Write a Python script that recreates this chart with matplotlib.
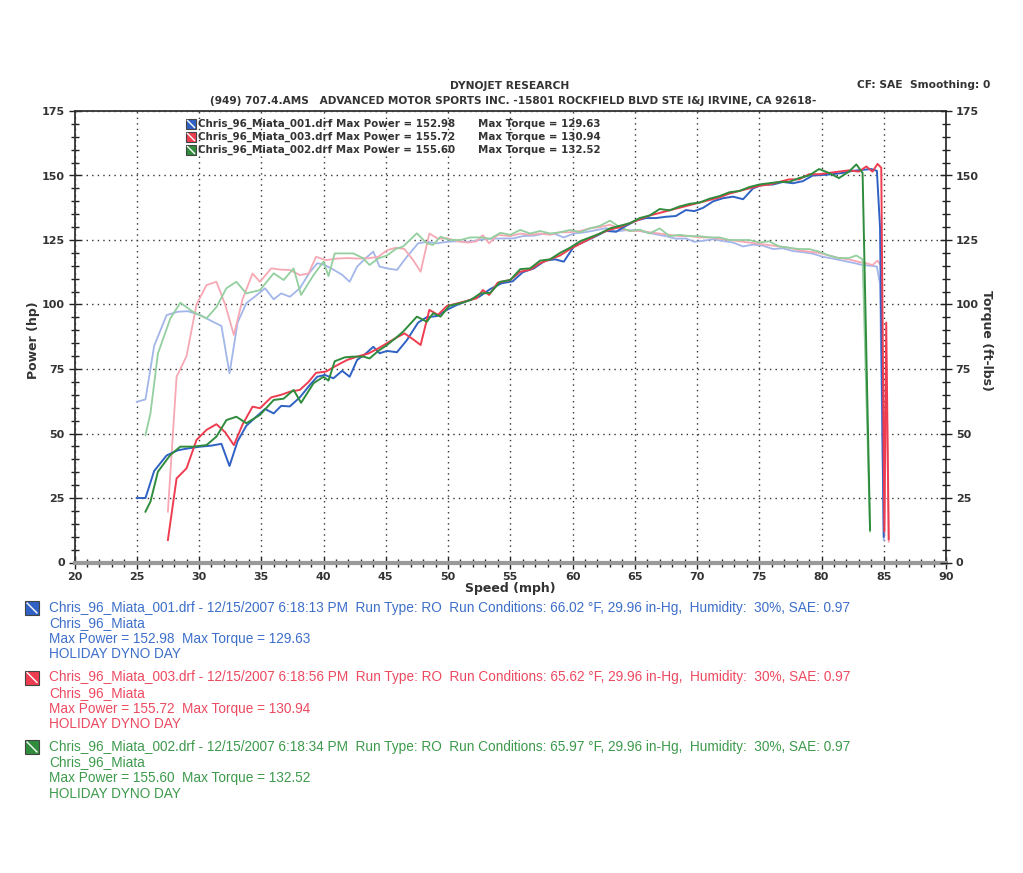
import numpy as np
import matplotlib.pyplot as plt
from matplotlib.patches import Rectangle
from matplotlib.lines import Line2D
from matplotlib.ticker import MultipleLocator

# ---- run 001 (blue) ----
speed_001 = [25.0, 25.7, 26.4, 27.4, 28.3, 29.1, 30.1, 31.0, 31.8, 32.45, 33.1, 33.8, 34.6, 35.3,
             36.0, 36.6, 37.3, 38.1, 38.9, 39.5, 40.1, 40.8, 41.5, 42.1, 42.7, 43.4, 44.0, 44.5,
             45.1, 45.9, 46.7, 47.6, 48.3, 49.1, 49.9, 50.7, 51.6, 52.5, 53.4, 54.3, 55.2, 56.0,
             56.9, 57.8, 58.6, 59.3, 60.1, 61.0, 61.9, 62.7, 63.5, 64.3, 65.1, 65.9, 66.7, 67.5,
             68.3, 69.1, 69.8, 70.5, 71.3, 72.1, 72.9, 73.7, 74.5, 75.3, 76.1, 76.9, 77.7, 78.5,
             79.3, 80.1, 80.9, 81.7, 82.5, 83.3, 84.0, 84.45, 84.7, 85.0]
power_001 = [25, 25, 35.5, 41.5, 43.5, 44.2, 44.9, 45.3, 46.0, 37.4, 47, 53, 56.5, 59.5,
             57.8, 60.7, 60.5, 64.0, 68.8, 72.0, 72.7, 71.4, 74.3, 72.0, 78.5, 81, 83.6, 81.1,
             82.0, 81.5, 86.2, 93.0, 95.1, 95.5, 97.9, 99.8, 101.5, 103, 106, 108.2, 109, 112.5,
             114, 117, 117.5, 116.6, 122.4, 124.5, 126.5, 128.5, 128.2, 130.5, 132.5, 133.5, 133.5, 134.0,
             134.3, 136.6, 136.2, 137.5, 140, 141.2, 141.8, 140.8, 145, 146.5, 146.5, 147.5, 147, 147.8,
             150, 150.2, 150.5, 151, 151.8, 152.2, 152.5, 151.8, 130, 10]
torque_001 = [62.3, 63.2, 84, 95.9, 97.2, 97.4, 95.9, 93.6, 91.7, 73.3, 93, 100.5, 103.5, 106.3,
              102, 104.3, 103, 106.3, 112.5, 116, 115.3, 113.5, 111.5, 108.8, 114.7, 118, 120.5, 114.7,
              114, 113.4, 118.5, 123.7, 124.3, 123.7, 124.3, 124.5, 124.3, 125, 125.5, 125.6, 125.6, 126.5,
              126.7, 127.5, 127.3, 126, 127.5, 128, 128.8, 129.6, 128.3, 128.8, 128.8, 128, 127.2, 126.5,
              125.5, 125.6, 124.3, 124.7, 125.3, 124.6, 124, 122.5, 123.2, 122.8, 121.5, 121.8, 120.7, 120.3,
              119.7, 118.5, 117.8, 117, 116.2, 115.3, 115, 114.7, 108, 8.7]

# ---- run 003 (red) ----
speed_003 = [27.5, 28.2, 29.0, 29.8, 30.6, 31.4, 32.1, 32.8, 33.5, 34.3, 34.9, 35.8, 36.6, 37.3,
             38.1, 38.8, 39.4, 40.2, 41.1, 41.9, 42.7, 43.6, 44.4, 45.1, 45.8, 46.5, 47.2, 47.8,
             48.5, 49.2, 49.9, 50.8, 51.6, 52.3, 52.8, 53.3, 54.0, 55.0, 55.8, 56.6, 57.4, 58.2,
             59.0, 59.8, 60.6, 61.4, 62.2, 63.0, 63.8, 64.6, 65.4, 66.2, 67.0, 67.8, 68.6, 69.4,
             70.2, 71.0, 71.8, 72.6, 73.4, 74.2, 75.0, 75.8, 76.6, 77.4, 78.2, 79.0, 79.8, 80.6,
             81.4, 82.2, 83.0, 83.6, 84.1, 84.5, 84.8, 85.05, 85.2, 85.4]
power_003 = [8.7, 32.6, 36.5, 47.5, 51.4, 53.6, 50.5, 45.5, 53.5, 60.4, 59.8, 64, 65, 66.2,
             66.9, 70, 73.5, 74, 76.5, 78.5, 79.8, 81, 83, 85, 87, 88.8, 86.5, 84.3,
             97.9, 96, 99.4, 100.5, 101.5, 102.4, 105.6, 103.7, 108.5, 109.5, 112.7, 113.5, 116, 117.5,
             119, 121.5, 123.5, 125.5, 127.5, 129, 130, 131.5, 133, 134.5, 135.5, 136.5, 137.5, 138.5,
             139.5, 140.5, 141.5, 143, 144, 145, 146, 146.5, 147.5, 148.5, 148.5, 150.5, 150.5, 151,
             151.5, 152, 151.5, 153.5, 151.5, 154.5, 153, 12, 93, 9]
torque_003 = [19.7, 72, 80, 100, 107.5, 108.8, 100, 88.2, 102, 112, 108.8, 114, 113.5, 113.4,
              111.4, 112, 118.5, 117.2, 117.8, 118, 117.8, 117.9, 118.5, 121, 122, 121.5, 117.2, 112.7,
              127.5, 125.5, 125.7, 124.5, 124, 124.5, 126.9, 123.7, 127, 126.5, 127.5, 127, 127.5, 127,
              128, 128, 128.5, 129.5, 130, 130.9, 129.5, 128.5, 128.5, 128, 127.5, 127, 126.5, 126.5,
              126, 126, 125.5, 125, 124.5, 124, 123.5, 123, 122.5, 122, 121, 120.5, 120, 119,
              118, 117.5, 116.5, 116, 115.3, 117, 115, 10, 80, 8]

# ---- run 002 (green) ----
speed_002 = [25.7, 26.1, 26.7, 27.7, 28.5, 29.5, 30.6, 31.4, 32.2, 33.0, 33.8, 34.9, 36.0, 36.8,
             37.6, 38.2, 39.2, 40.0, 40.4, 40.9, 41.7, 42.4, 43.2, 43.7, 44.4, 45.1, 45.8, 46.4,
             47.5, 48.3, 48.8, 49.4, 50.1, 51.0, 51.8, 52.6, 53.4, 54.2, 55.0, 55.8, 56.6, 57.4,
             58.2, 59.0, 59.8, 60.6, 61.4, 62.2, 63.0, 63.8, 64.6, 65.4, 66.2, 67.0, 67.8, 68.6,
             69.4, 70.2, 71.0, 71.8, 72.6, 73.4, 74.2, 75.0, 75.8, 76.6, 77.4, 78.2, 79.0, 79.8,
             80.6, 81.4, 82.2, 82.8, 83.3, 83.9]
power_002 = [19.7, 23.6, 35.2, 41.7, 44.9, 44.9, 45.5, 48.8, 55.2, 56.5, 54.0, 57.2, 63.0, 63.5,
             66.9, 61.9, 69.5, 72.0, 70.5, 78.0, 79.5, 79.8, 79.8, 79.1, 82, 84.3, 87, 89.5,
             95.3, 93.3, 96.6, 95.3, 99.5, 100.5, 101.7, 104.3, 104.5, 108.8, 109.5, 113.7, 114, 117,
             117.5, 120, 122, 124.5, 126, 127.5, 129.5, 130.5, 131.5, 133.5, 134.5, 137, 136.5, 138,
             139, 139.5, 141, 142, 143.5, 144, 145.5, 146.5, 147, 147.5, 147.5, 149, 150, 152.5,
             151, 149, 151.5, 154.3, 151, 12.6]
torque_002 = [49.4, 57.8, 81, 94.6, 100.7, 97.2, 94.6, 99, 106.3, 108.8, 104.3, 105.6, 112.1, 109.5,
              114, 103.7, 111.4, 116.6, 111, 119.8, 119.8, 119.8, 117.9, 115.3, 117.9, 119, 121.5, 122.5,
              127.6, 123.7, 123.1, 126.3, 125, 125, 126, 126, 125.5, 127.8, 127, 128.9, 127.5, 128.5,
              127.5, 128, 128.9, 128, 129.5, 130.5, 132.5, 130, 128.5, 129, 127.5, 129.5, 126.5, 127,
              126.5, 126.5, 126, 126, 125, 125, 125, 124, 124.5, 122.5, 122, 121.5, 121.5, 120.5,
              119, 118, 118, 119, 117.5, 12]

runs = [
    ("Chris_96_Miata_001.drf", "152.98", "129.63", "6:18:13 PM", "66.02",
     speed_001, power_001, torque_001, "#2f62c4", "#a3b6ea", "#3d6fc9"),
    ("Chris_96_Miata_003.drf", "155.72", "130.94", "6:18:56 PM", "65.62",
     speed_003, power_003, torque_003, "#ee3d50", "#f6a8b4", "#ec4a60"),
    ("Chris_96_Miata_002.drf", "155.60", "132.52", "6:18:34 PM", "65.97",
     speed_002, power_002, torque_002, "#2f8c3c", "#93cf9f", "#3d9a4c"),
]

W, H = 1023, 873
fig = plt.figure(figsize=(W / 100, H / 100), dpi=100)
ax = fig.add_axes([74.5 / W, 1 - 562.5 / H, (946 - 74.5) / W, (562.5 - 111) / H])

# torque first (lighter, underneath), then power
for name, mp, mt, tm, temp, sp, pw, tq, c_dark, c_light, c_txt in runs:
    ax.plot(sp, tq, color=c_light, lw=1.3, zorder=2)
for name, mp, mt, tm, temp, sp, pw, tq, c_dark, c_light, c_txt in runs:
    ax.plot(sp, pw, color=c_dark, lw=1.4, zorder=3)

ax.set_xlim(20, 90)
ax.set_ylim(0, 175)
ax.xaxis.set_major_locator(MultipleLocator(5))
ax.xaxis.set_minor_locator(MultipleLocator(1))
ax.yaxis.set_major_locator(MultipleLocator(25))
ax.yaxis.set_minor_locator(MultipleLocator(5))
ax.grid(True, which='major', color='#333333', linestyle=(0, (1, 3)), lw=1.0)
ax.tick_params(which='both', direction='inout', colors='#222222')
ax.tick_params(which='major', length=8, width=1, labelsize=8, pad=3)
ax.tick_params(which='minor', length=6, width=1)
for lab in ax.get_xticklabels() + ax.get_yticklabels():
    lab.set_fontweight('bold')
    lab.set_color('#333333')
for s in ax.spines.values():
    s.set_color('#333333')
    s.set_linewidth(1.3)
ax.spines['bottom'].set_color('#9a9a9a')
ax.spines['bottom'].set_linewidth(3)

ax2 = ax.twinx()
ax2.set_ylim(0, 175)
ax2.yaxis.set_major_locator(MultipleLocator(25))
ax2.yaxis.set_minor_locator(MultipleLocator(5))
ax2.tick_params(which='both', direction='inout', colors='#222222')
ax2.tick_params(which='major', length=8, width=1, labelsize=8, pad=3)
ax2.tick_params(which='minor', length=6, width=1)
for lab in ax2.get_yticklabels():
    lab.set_fontweight('bold')
    lab.set_color('#333333')
for s in ax2.spines.values():
    s.set_visible(False)

ax.set_xlabel("Speed (mph)", fontsize=9, fontweight='bold', color='#333333', labelpad=0)
fig.text(34 / W, 1 - 340 / H, "Power (hp)", rotation=90, ha='center', va='center',
         fontsize=9, fontweight='bold', color='#333333')
fig.text(986 / W, 1 - 340 / H, "Torque (ft-lbs)", rotation=-90, ha='center', va='center',
         fontsize=9, fontweight='bold', color='#333333')

# header
fig.text(510 / W, 1 - 86 / H, "DYNOJET RESEARCH", ha='center', va='center',
         fontsize=7.7, fontweight='bold', color='#333333')
fig.text(513 / W, 1 - 101 / H,
         "(949) 707.4.AMS   ADVANCED MOTOR SPORTS INC. -15801 ROCKFIELD BLVD STE I&J IRVINE, CA 92618-",
         ha='center', va='center', fontsize=7.6, fontweight='bold', color='#333333')
fig.text(990 / W, 1 - 85 / H, "CF: SAE  Smoothing: 0", ha='right', va='center',
         fontsize=7.7, fontweight='bold', color='#333333')


def icon(x, y, size, color):
    # small square swatch with a diagonal stroke, in pixel coords
    fx, fy, fw, fh = x / W, 1 - (y + size) / H, size / W, size / H
    fig.patches.append(Rectangle((fx, fy), fw, fh, transform=fig.transFigure,
                                 facecolor=color, edgecolor='#444444', lw=0.8))
    fig.lines.append(Line2D([fx + fw * 0.15, fx + fw * 0.85], [fy + fh * 0.85, fy + fh * 0.15],
                            transform=fig.transFigure, color='white', lw=1.0))


# in-plot legend
for i, (name, mp, mt, tm, temp, sp, pw, tq, c_dark, c_light, c_txt) in enumerate(runs):
    y = 124 + i * 13
    icon(186, y - 5, 10, c_dark)
    fig.text(198 / W, 1 - y / H, f"{name} Max Power = {mp}", ha='left', va='center',
             fontsize=7.4, fontweight='bold', color='#333333')
    fig.text(478 / W, 1 - y / H, f"Max Torque = {mt}", ha='left', va='center',
             fontsize=7.4, fontweight='bold', color='#333333')

# run details below the chart
for i, (name, mp, mt, tm, temp, sp, pw, tq, c_dark, c_light, c_txt) in enumerate(runs):
    y0 = 608 + i * 69.5
    icon(25, y0 - 7, 14, c_dark)
    lines = [
        f"{name} - 12/15/2007 {tm}  Run Type: RO  Run Conditions: {temp} °F, 29.96 in-Hg,  "
        f"Humidity:  30%, SAE: 0.97",
        "Chris_96_Miata",
        f"Max Power = {mp}  Max Torque = {mt}",
        "HOLIDAY DYNO DAY",
    ]
    for j, t in enumerate(lines):
        fig.text(49 / W, 1 - (y0 + j * 15.5) / H, t, ha='left', va='center',
                 fontsize=9.8, family=['Liberation Sans', 'DejaVu Sans'], color=c_txt)

fig.savefig("out.png", dpi=100)
